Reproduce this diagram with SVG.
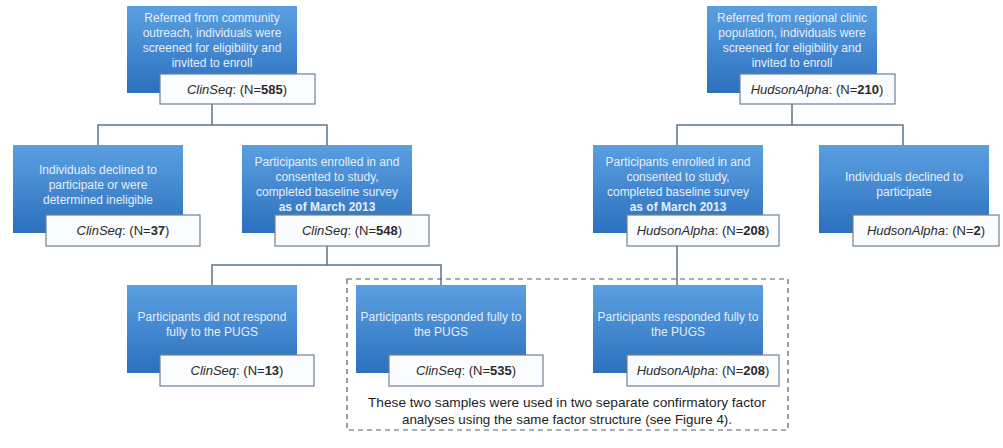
<svg xmlns="http://www.w3.org/2000/svg" width="1003" height="448" viewBox="0 0 1003 448">
<defs>
<linearGradient id="blue" x1="0" y1="0" x2="0" y2="1">
<stop offset="0" stop-color="#5b9fe1"/>
<stop offset="1" stop-color="#2c70be"/>
</linearGradient>
<style>
.box{fill:url(#blue);}
.lab{fill:#fbfcfd;stroke:#6f8195;stroke-width:1.2;}
.bt{font-family:"Liberation Sans",Arial,sans-serif;font-size:12px;fill:#e4eef9;text-anchor:middle;}
.lt{font-family:"Liberation Sans",Arial,sans-serif;font-size:13px;fill:#2a2a2a;text-anchor:middle;}
.cap{font-family:"Liberation Sans",Arial,sans-serif;font-size:13px;fill:#1e1e1e;text-anchor:middle;}
.con{fill:none;stroke:#5d7388;stroke-width:1.5;}
.i{font-style:italic;}
.b{font-weight:bold;}
</style>
</defs>
<rect width="1003" height="448" fill="#ffffff"/>

<g id="connectors">
<path class="con" d="M212 104V125M98 145V125H327V145"/>
<path class="con" d="M792 104V125M677 145V125H903V145"/>
<path class="con" d="M327 246V265M212 285V265H441V285"/>
<path class="con" d="M677 246V285"/>
</g>

<g id="group-box">
<rect x="347" y="279" width="441" height="151" fill="none" stroke="#4a6178" stroke-width="1.2" stroke-dasharray="5,4"/>
<text class="cap" x="567" y="407" textLength="398" lengthAdjust="spacingAndGlyphs">These two samples were used in two separate confirmatory factor</text>
<text class="cap" x="567" y="424" textLength="330" lengthAdjust="spacingAndGlyphs">analyses using the same factor structure (see Figure 4).</text>
</g>

<g id="node-clinseq-referred">
<rect class="box" x="127" y="6" width="170" height="87"/>
<text class="bt" x="212" y="22">Referred from community</text>
<text class="bt" x="212" y="37">outreach, individuals were</text>
<text class="bt" x="212" y="52">screened for eligibility and</text>
<text class="bt" x="212" y="67">invited to enroll</text>
<rect class="lab" x="160" y="74" width="155" height="30"/>
<text class="lt" x="237" y="94"><tspan class="i">ClinSeq</tspan>: (N=<tspan class="b">585</tspan>)</text>
</g>

<g id="node-hudson-referred">
<rect class="box" x="707" y="6" width="170" height="87"/>
<text class="bt" x="792" y="22">Referred from regional clinic</text>
<text class="bt" x="792" y="37">population, individuals were</text>
<text class="bt" x="792" y="52">screened for eligibility and</text>
<text class="bt" x="792" y="67">invited to enroll</text>
<rect class="lab" x="740" y="74" width="155" height="30"/>
<text class="lt" x="817" y="94"><tspan class="i">HudsonAlpha</tspan>: (N=<tspan class="b">210</tspan>)</text>
</g>

<g id="node-clinseq-declined">
<rect class="box" x="13" y="145" width="170" height="88"/>
<text class="bt" x="98" y="174">Individuals declined to</text>
<text class="bt" x="98" y="189">participate or were</text>
<text class="bt" x="98" y="204">determined ineligible</text>
<rect class="lab" x="46" y="215" width="154" height="31"/>
<text class="lt" x="123" y="235"><tspan class="i">ClinSeq</tspan>: (N=<tspan class="b">37</tspan>)</text>
</g>

<g id="node-clinseq-enrolled">
<rect class="box" x="242" y="145" width="170" height="88"/>
<text class="bt" x="327" y="166">Participants enrolled in and</text>
<text class="bt" x="327" y="181">consented to study,</text>
<text class="bt" x="327" y="196">completed baseline survey</text>
<text class="bt b" x="327" y="211">as of March 2013</text>
<rect class="lab" x="275" y="215" width="154" height="31"/>
<text class="lt" x="352" y="235"><tspan class="i">ClinSeq</tspan>: (N=<tspan class="b">548</tspan>)</text>
</g>

<g id="node-hudson-enrolled">
<rect class="box" x="593" y="145" width="170" height="88"/>
<text class="bt" x="678" y="166">Participants enrolled in and</text>
<text class="bt" x="678" y="181">consented to study,</text>
<text class="bt" x="678" y="196">completed baseline survey</text>
<text class="bt b" x="678" y="211">as of March 2013</text>
<rect class="lab" x="627" y="215" width="152" height="31"/>
<text class="lt" x="703" y="235"><tspan class="i">HudsonAlpha</tspan>: (N=<tspan class="b">208</tspan>)</text>
</g>

<g id="node-hudson-declined">
<rect class="box" x="819" y="145" width="170" height="88"/>
<text class="bt" x="904" y="181">Individuals declined to</text>
<text class="bt" x="904" y="196">participate</text>
<rect class="lab" x="853" y="215" width="146" height="31"/>
<text class="lt" x="926" y="235"><tspan class="i">HudsonAlpha</tspan>: (N=<tspan class="b">2</tspan>)</text>
</g>

<g id="node-clinseq-notresp">
<rect class="box" x="127" y="285" width="170" height="88"/>
<text class="bt" x="212" y="321">Participants did not respond</text>
<text class="bt" x="212" y="336">fully to the PUGS</text>
<rect class="lab" x="160" y="355" width="154" height="31"/>
<text class="lt" x="237" y="375"><tspan class="i">ClinSeq</tspan>: (N=<tspan class="b">13</tspan>)</text>
</g>

<g id="node-clinseq-resp">
<rect class="box" x="356" y="285" width="170" height="88"/>
<text class="bt" x="441" y="321">Participants responded fully to</text>
<text class="bt" x="441" y="336">the PUGS</text>
<rect class="lab" x="389" y="355" width="154" height="31"/>
<text class="lt" x="466" y="375"><tspan class="i">ClinSeq</tspan>: (N=<tspan class="b">535</tspan>)</text>
</g>

<g id="node-hudson-resp">
<rect class="box" x="593" y="285" width="170" height="88"/>
<text class="bt" x="678" y="321">Participants responded fully to</text>
<text class="bt" x="678" y="336">the PUGS</text>
<rect class="lab" x="627" y="355" width="152" height="31"/>
<text class="lt" x="703" y="375"><tspan class="i">HudsonAlpha</tspan>: (N=<tspan class="b">208</tspan>)</text>
</g>
</svg>
